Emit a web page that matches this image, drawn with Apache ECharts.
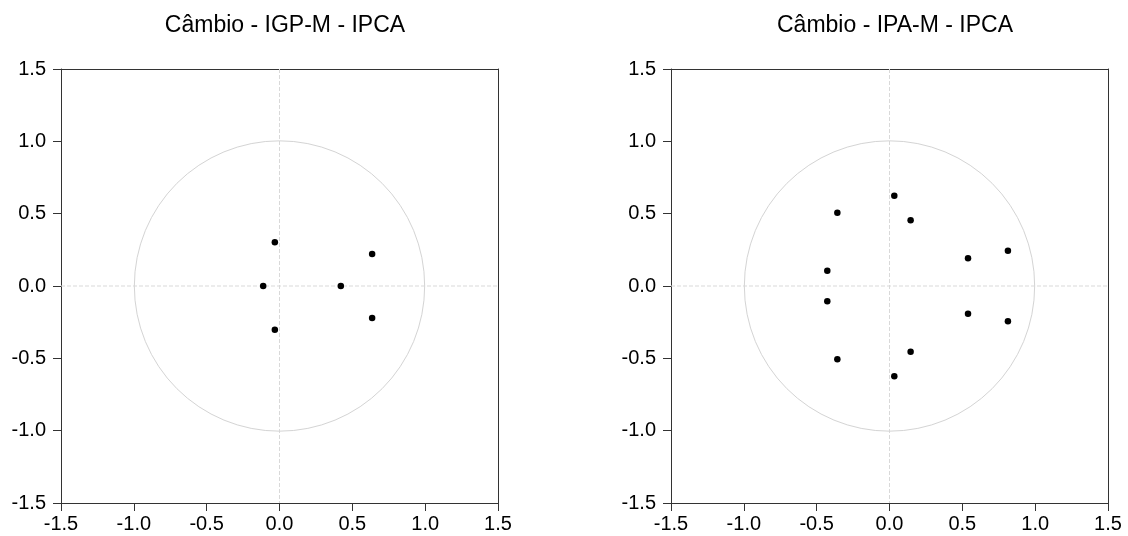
<!DOCTYPE html>
<html>
<head>
<meta charset="utf-8">
<script src="https://cdn.jsdelivr.net/npm/echarts@6/dist/echarts.min.js"></script>
<style>
html,body{margin:0;padding:0;background:#fff;}
#main{width:1128px;height:536px;}
</style>
</head>
<body>
<div id="main"></div>
<script>
// Inverse roots of AR characteristic polynomial (real, imaginary)
var titles = ["Câmbio - IGP-M - IPCA", "Câmbio - IPA-M - IPCA"];
var tickLabels = [-1.5, -1.0, -0.5, 0.0, 0.5, 1.0, 1.5];
var rootsIGP = [
  [-0.032, 0.303], [-0.032, -0.303],
  [-0.112, 0.0],
  [0.421, 0.0],
  [0.636, 0.222], [0.636, -0.222]
];
var rootsIPA = [
  [0.033, 0.623], [0.033, -0.623],
  [-0.358, 0.507], [-0.358, -0.507],
  [0.145, 0.454], [0.145, -0.454],
  [0.813, 0.243], [0.813, -0.243],
  [0.539, 0.192], [0.539, -0.192],
  [-0.427, 0.105], [-0.427, -0.105]
];
var unitCircle = [[0, 0, 1]];

var FONT = "Liberation Sans";
var chart = echarts.init(document.getElementById('main'), null, {renderer: 'canvas'});

function fmt(v) { return v.toFixed(1); }
function xAxis(idx) {
  return {
    type: 'value', gridIndex: idx, min: tickLabels[0], max: tickLabels[tickLabels.length - 1], interval: 0.5,
    axisLine: {show: true, onZero: false, lineStyle: {color: '#333', width: 1}},
    axisTick: {show: true, length: 8, lineStyle: {color: '#333'}},
    axisLabel: {color: '#000', fontFamily: FONT, fontSize: 20, margin: 11, formatter: fmt},
    splitLine: {show: false}
  };
}
function yAxis(idx) {
  return {
    type: 'value', gridIndex: idx, min: tickLabels[0], max: tickLabels[tickLabels.length - 1], interval: 0.5,
    axisLine: {show: true, onZero: false, lineStyle: {color: '#333', width: 1}},
    axisTick: {show: true, length: 8, lineStyle: {color: '#333'}},
    axisLabel: {color: '#000', fontFamily: FONT, fontSize: 20, margin: 15, formatter: fmt},
    splitLine: {show: false}
  };
}
// top & right frame axes
function frameX(idx) {
  return {type: 'value', gridIndex: idx, position: 'top', min: -1.5, max: 1.5,
    axisLine: {show: true, onZero: false, lineStyle: {color: '#333'}},
    axisTick: {show: false}, axisLabel: {show: false}, splitLine: {show: false}};
}
function frameY(idx) {
  return {type: 'value', gridIndex: idx, position: 'right', min: -1.5, max: 1.5,
    axisLine: {show: true, onZero: false, lineStyle: {color: '#333'}},
    axisTick: {show: false}, axisLabel: {show: false}, splitLine: {show: false}};
}

function circleSeries(xi, yi) {
  return {
    type: 'custom', xAxisIndex: xi, yAxisIndex: yi, silent: true, z: 1,
    data: unitCircle,
    renderItem: function (params, api) {
      var c = api.coord([api.value(0), api.value(1)]);
      var s = api.size([api.value(2), api.value(2)]);
      var cs = params.coordSys;
      return {
        type: 'group',
        children: [
          {type: 'line', shape: {x1: cs.x, y1: c[1], x2: cs.x + cs.width, y2: c[1]},
            style: {stroke: '#d9d9d9', lineWidth: 1, lineDash: [4, 2]}},
          {type: 'line', shape: {x1: c[0], y1: cs.y, x2: c[0], y2: cs.y + cs.height},
            style: {stroke: '#d9d9d9', lineWidth: 1, lineDash: [4, 2]}},
          {type: 'circle', shape: {cx: c[0], cy: c[1], r: (s[0] + s[1]) / 2},
            style: {fill: 'none', stroke: '#d4d4d4', lineWidth: 1}}
        ]
      };
    }
  };
}
function pointSeries(data, xi, yi) {
  return {
    type: 'scatter', xAxisIndex: xi, yAxisIndex: yi, data: data, z: 5,
    symbol: 'circle', symbolSize: 6.5, itemStyle: {color: '#000', opacity: 1}, silent: true
  };
}

chart.setOption({
  animation: false,
  backgroundColor: '#fff',
  title: [
    {text: titles[0], left: 280, top: 9, textAlign: 'center',
      textStyle: {fontFamily: FONT, fontSize: 23, fontWeight: 'normal', color: '#000'}},
    {text: titles[1], left: 890, top: 9, textAlign: 'center',
      textStyle: {fontFamily: FONT, fontSize: 23, fontWeight: 'normal', color: '#000'}}
  ],
  grid: [
    {left: 61, top: 69, width: 437, height: 434},
    {left: 671, top: 69, width: 437, height: 434}
  ],
  xAxis: [xAxis(0), xAxis(1), frameX(0), frameX(1)],
  yAxis: [yAxis(0), yAxis(1), frameY(0), frameY(1)],
  series: [
    circleSeries(0, 0),
    circleSeries(1, 1),
    pointSeries(rootsIGP, 0, 0),
    pointSeries(rootsIPA, 1, 1)
  ]
});
</script>
</body>
</html>
